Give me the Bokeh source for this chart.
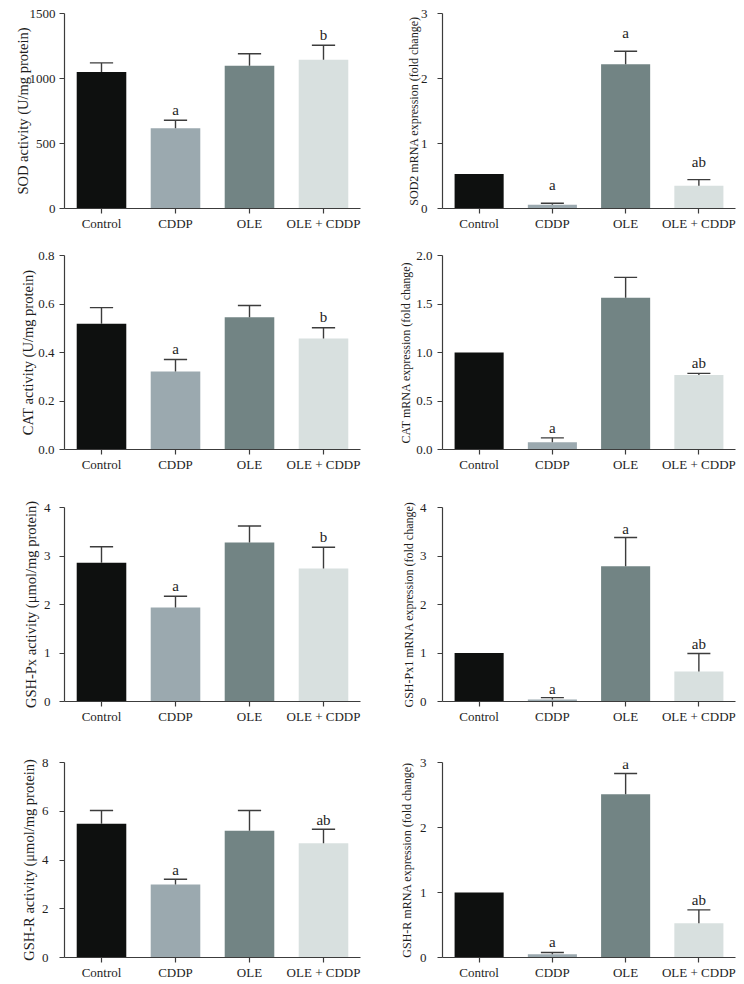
from bokeh.plotting import figure
from bokeh.layouts import column, row
from bokeh.models import Range1d, FixedTicker, FactorRange, ColumnDataSource
from bokeh.transform import dodge
from bokeh.core.properties import value
from bokeh.embed import file_html
from bokeh.resources import INLINE

# ---------------- data ----------------
categories = ["Control", "CDDP", "OLE", "OLE + CDDP"]
bar_colors = ["#0e100f", "#9ba9af", "#728484", "#d8e0df"]

sod_activity = [1050, 618, 1098, 1144]
sod_activity_err = [70, 61, 92, 112]
sod_activity_letters = ["", "a", "", "b"]
sod_activity_ticks = [0, 500, 1000, 1500]
sod_activity_ticklabels = ["0", "500", "1000", "1500"]

sod2_mrna = [0.53, 0.057, 2.22, 0.35]
sod2_mrna_err = [0.0, 0.023, 0.20, 0.095]
sod2_mrna_letters = ["", "a", "a", "ab"]
sod2_mrna_ticks = [0, 1, 2, 3]
sod2_mrna_ticklabels = ["0", "1", "2", "3"]

cat_activity = [0.519, 0.322, 0.545, 0.458]
cat_activity_err = [0.066, 0.049, 0.049, 0.044]
cat_activity_letters = ["", "a", "", "b"]
cat_activity_ticks = [0, 0.2, 0.4, 0.6, 0.8]
cat_activity_ticklabels = ["0.0", "0.2", "0.4", "0.6", "0.8"]

cat_mrna = [1.0, 0.075, 1.565, 0.768]
cat_mrna_err = [0.0, 0.045, 0.21, 0.017]
cat_mrna_letters = ["", "a", "", "ab"]
cat_mrna_ticks = [0, 0.5, 1.0, 1.5, 2.0]
cat_mrna_ticklabels = ["0.0", "0.5", "1.0", "1.5", "2.0"]

gshpx_activity = [2.86, 1.94, 3.28, 2.74]
gshpx_activity_err = [0.33, 0.23, 0.34, 0.44]
gshpx_activity_letters = ["", "a", "", "b"]
gshpx_activity_ticks = [0, 1, 2, 3, 4]
gshpx_activity_ticklabels = ["0", "1", "2", "3", "4"]

gshpx1_mrna = [1.0, 0.04, 2.79, 0.62]
gshpx1_mrna_err = [0.0, 0.04, 0.59, 0.37]
gshpx1_mrna_letters = ["", "a", "a", "ab"]
gshpx1_mrna_ticks = [0, 1, 2, 3, 4]
gshpx1_mrna_ticklabels = ["0", "1", "2", "3", "4"]

gshr_activity = [5.49, 3.0, 5.2, 4.69]
gshr_activity_err = [0.54, 0.21, 0.83, 0.57]
gshr_activity_letters = ["", "a", "", "ab"]
gshr_activity_ticks = [0, 2, 4, 6, 8]
gshr_activity_ticklabels = ["0", "2", "4", "6", "8"]

gshr_mrna = [1.0, 0.051, 2.51, 0.528]
gshr_mrna_err = [0.0, 0.026, 0.32, 0.205]
gshr_mrna_letters = ["", "a", "a", "ab"]
gshr_mrna_ticks = [0, 1, 2, 3]
gshr_mrna_ticklabels = ["0", "1", "2", "3"]

titles = [
    "SOD activity (U/mg protein)", "SOD2 mRNA expression (fold change)",
    "CAT activity (U/mg protein)", "CAT mRNA expression (fold change)",
    "GSH-Px activity (\u03bcmol/mg protein)", "GSH-Px1 mRNA expression (fold change)",
    "GSH-R activity (\u03bcmol/mg protein)", "GSH-R mRNA expression (fold change)",
]

panel_data = [
    (sod_activity, sod_activity_err, sod_activity_letters, sod_activity_ticks, sod_activity_ticklabels),
    (sod2_mrna, sod2_mrna_err, sod2_mrna_letters, sod2_mrna_ticks, sod2_mrna_ticklabels),
    (cat_activity, cat_activity_err, cat_activity_letters, cat_activity_ticks, cat_activity_ticklabels),
    (cat_mrna, cat_mrna_err, cat_mrna_letters, cat_mrna_ticks, cat_mrna_ticklabels),
    (gshpx_activity, gshpx_activity_err, gshpx_activity_letters, gshpx_activity_ticks, gshpx_activity_ticklabels),
    (gshpx1_mrna, gshpx1_mrna_err, gshpx1_mrna_letters, gshpx1_mrna_ticks, gshpx1_mrna_ticklabels),
    (gshr_activity, gshr_activity_err, gshr_activity_letters, gshr_activity_ticks, gshr_activity_ticklabels),
    (gshr_mrna, gshr_mrna_err, gshr_mrna_letters, gshr_mrna_ticks, gshr_mrna_ticklabels),
]

# ---------------- style / layout ----------------
FONT = "Liberation Serif"
AXIS_COLOR = "#3c3c3c"
TEXT_COLOR = "#1e1e1e"
row_heights = [246, 252, 255, 230]
row_border_top = [13, 9, 9, 9]
row_frame_h = [195, 194, 194, 195]
letter_offsets = [10, 18, 11, 10, 10, 9, 9, 10]
label_standoffs = [4, 10, 5, 5, 9, 11, 11, 11]
title_standoffs = [-4, -3, -1, 0, 2, 1, 2, 3]
col_width = 372
col_border_left = [64, 70]
col_frame_w = [296, 293]


def make_panel(idx):
    vals, errs, letters, ticks, ticklabels = panel_data[idx]
    r, c = divmod(idx, 2)
    h = row_heights[r]
    bt = row_border_top[r]
    bb = h - bt - row_frame_h[r]
    bl = col_border_left[c]
    br = col_width - bl - col_frame_w[c]
    p = figure(
        x_range=FactorRange(*categories, range_padding=0),
        y_range=Range1d(0, ticks[-1]),
        width=col_width, height=h,
        output_backend="svg", toolbar_location=None,
        min_border_left=bl, min_border_right=br,
        min_border_top=bt, min_border_bottom=bb,
    )
    p.outline_line_color = None
    p.grid.visible = False
    p.background_fill_color = "white"
    p.border_fill_color = "white"

    src = ColumnDataSource(dict(cat=categories, val=vals, color=bar_colors))
    ecats = [cc for cc, e in zip(categories, errs) if e > 0]
    evals = [v for v, e in zip(vals, errs) if e > 0]
    etops = [v + e for v, e in zip(vals, errs) if e > 0]
    esrc = ColumnDataSource(dict(cat=ecats, val=evals, top=etops))
    lcats = [cc for cc, l in zip(categories, letters) if l]
    ltops = [v + e for v, e, l in zip(vals, errs, letters) if l]
    ltxt = [l for l in letters if l]
    lsrc = ColumnDataSource(dict(cat=lcats, top=ltops, txt=ltxt))

    p.vbar(x="cat", top="val", bottom=0, width=0.67, source=src,
           fill_color="color", line_color=None)
    p.segment(x0="cat", x1="cat", y0="val", y1="top", source=esrc,
              line_color=AXIS_COLOR, line_width=1.4)
    p.segment(x0=dodge("cat", -0.157, range=p.x_range),
              x1=dodge("cat", 0.157, range=p.x_range),
              y0="top", y1="top", source=esrc,
              line_color=AXIS_COLOR, line_width=1.4)
    p.text(x="cat", y="top", text="txt", source=lsrc,
           text_align="center", text_baseline="alphabetic",
           y_offset=-letter_offsets[idx],
           text_font=value(FONT), text_font_size="15px", text_color=TEXT_COLOR)

    for ax in (p.xaxis[0], p.yaxis[0]):
        ax.axis_line_color = AXIS_COLOR
        ax.axis_line_width = 1.2
        ax.major_tick_line_color = AXIS_COLOR
        ax.major_tick_line_width = 1.2
        ax.major_tick_out = 5
        ax.major_tick_in = 0
        ax.minor_tick_line_color = None
        ax.major_label_text_font = FONT
        ax.major_label_text_font_size = "13px"
        ax.major_label_text_color = TEXT_COLOR

    p.xaxis.major_label_standoff = 2
    p.yaxis.ticker = FixedTicker(ticks=ticks)
    p.yaxis.major_label_overrides = {t: lab for t, lab in zip(ticks, ticklabels)}
    p.yaxis.major_label_standoff = label_standoffs[idx]
    p.yaxis.axis_label = titles[idx]
    p.yaxis.axis_label_text_font = FONT
    p.yaxis.axis_label_text_font_style = "normal"
    p.yaxis.axis_label_text_font_size = "14.5px" if c == 0 else "12px"
    p.yaxis.axis_label_text_color = TEXT_COLOR
    p.yaxis.axis_label_standoff = title_standoffs[idx]
    return p


panels = [make_panel(i) for i in range(8)]
layout = column(*[row(panels[2 * r], panels[2 * r + 1]) for r in range(4)])

open("out.html", "w").write(file_html(layout, INLINE))
